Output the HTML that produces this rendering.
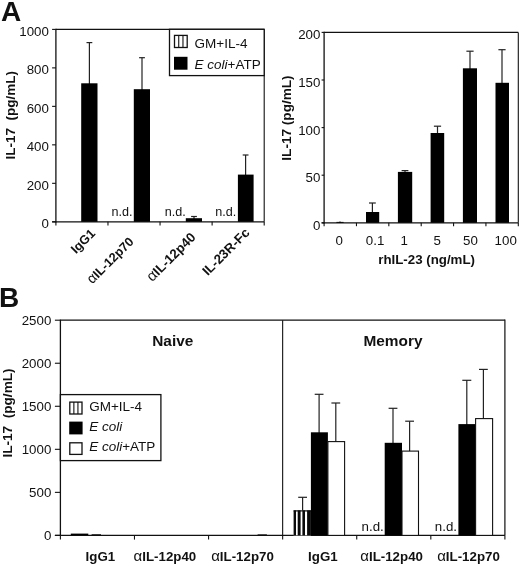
<!DOCTYPE html>
<html><head><meta charset="utf-8"><title>Figure</title>
<style>
html,body{margin:0;padding:0;background:#fff;}
svg{display:block;font-family:"Liberation Sans", "DejaVu Sans", sans-serif;fill:#111;}
svg text{fill:#111;}
</style></head>
<body>
<svg width="520" height="566" viewBox="0 0 520 566">
<rect x="0" y="0" width="520" height="566" fill="#fff"/>
<text x="0.9" y="20.9" font-size="28" text-anchor="start" font-weight="bold">A</text>
<text x="-1.1" y="307.1" font-size="28" text-anchor="start" font-weight="bold">B</text>
<line x1="55.9" y1="28.799999999999997" x2="55.9" y2="222.4" stroke="#111" stroke-width="1.3"/>
<line x1="55.9" y1="29.4" x2="264.2" y2="29.4" stroke="#111" stroke-width="1.2"/>
<line x1="264.2" y1="29.4" x2="264.2" y2="221.8" stroke="#111" stroke-width="1.1"/>
<line x1="52.1" y1="221.8" x2="264.2" y2="221.8" stroke="#111" stroke-width="1.2"/>
<line x1="52.1" y1="221.8" x2="55.9" y2="221.8" stroke="#111" stroke-width="1.1"/>
<text x="48.9" y="228.1" font-size="13.3" text-anchor="end" font-weight="normal">0</text>
<line x1="52.1" y1="183.32" x2="55.9" y2="183.32" stroke="#111" stroke-width="1.1"/>
<text x="48.9" y="189.62" font-size="13.3" text-anchor="end" font-weight="normal">200</text>
<line x1="52.1" y1="144.84" x2="55.9" y2="144.84" stroke="#111" stroke-width="1.1"/>
<text x="48.9" y="151.14" font-size="13.3" text-anchor="end" font-weight="normal">400</text>
<line x1="52.1" y1="106.36" x2="55.9" y2="106.36" stroke="#111" stroke-width="1.1"/>
<text x="48.9" y="112.66" font-size="13.3" text-anchor="end" font-weight="normal">600</text>
<line x1="52.1" y1="67.88" x2="55.9" y2="67.88" stroke="#111" stroke-width="1.1"/>
<text x="48.9" y="74.18" font-size="13.3" text-anchor="end" font-weight="normal">800</text>
<line x1="52.1" y1="29.400000000000006" x2="55.9" y2="29.400000000000006" stroke="#111" stroke-width="1.1"/>
<text x="48.9" y="35.7" font-size="13.3" text-anchor="end" font-weight="normal">1000</text>
<line x1="55.9" y1="221.8" x2="55.9" y2="225.4" stroke="#111" stroke-width="1.1"/>
<line x1="107.97" y1="221.8" x2="107.97" y2="225.4" stroke="#111" stroke-width="1.1"/>
<line x1="160.05" y1="221.8" x2="160.05" y2="225.4" stroke="#111" stroke-width="1.1"/>
<line x1="212.12" y1="221.8" x2="212.12" y2="225.4" stroke="#111" stroke-width="1.1"/>
<line x1="264.2" y1="221.8" x2="264.2" y2="225.4" stroke="#111" stroke-width="1.1"/>
<line x1="89.4" y1="42.6" x2="89.4" y2="84.3" stroke="#222" stroke-width="1.2"/>
<line x1="86.5" y1="42.6" x2="92.30000000000001" y2="42.6" stroke="#222" stroke-width="1.2"/>
<rect x="81.2" y="83.3" width="16.3" height="138.5" fill="#000"/>
<line x1="142.0" y1="57.7" x2="142.0" y2="90.2" stroke="#222" stroke-width="1.2"/>
<line x1="139.1" y1="57.7" x2="144.9" y2="57.7" stroke="#222" stroke-width="1.2"/>
<rect x="133.8" y="89.2" width="16.2" height="132.6" fill="#000"/>
<line x1="194.0" y1="216.5" x2="194.0" y2="219.2" stroke="#222" stroke-width="1.2"/>
<line x1="191.1" y1="216.5" x2="196.9" y2="216.5" stroke="#222" stroke-width="1.2"/>
<rect x="185.8" y="218.2" width="16.2" height="3.6" fill="#000"/>
<line x1="245.6" y1="155.0" x2="245.6" y2="175.6" stroke="#222" stroke-width="1.2"/>
<line x1="242.7" y1="155.0" x2="248.5" y2="155.0" stroke="#222" stroke-width="1.2"/>
<rect x="237.9" y="174.6" width="15.7" height="47.2" fill="#000"/>
<text x="111.5" y="215.6" font-size="12.6" text-anchor="start" font-weight="normal">n.d.</text>
<text x="164.8" y="215.6" font-size="12.6" text-anchor="start" font-weight="normal">n.d.</text>
<text x="215.2" y="215.6" font-size="12.6" text-anchor="start" font-weight="normal">n.d.</text>
<rect x="169.5" y="29.3" width="94.7" height="46.3" fill="#fff" stroke="#111" stroke-width="1.3"/>
<rect x="174.5" y="35.4" width="12.7" height="12.1" fill="#fff" stroke="#111" stroke-width="1.3"/>
<line x1="178.73" y1="35.4" x2="178.73" y2="47.5" stroke="#111" stroke-width="1.1"/>
<line x1="182.97" y1="35.4" x2="182.97" y2="47.5" stroke="#111" stroke-width="1.1"/>
<rect x="174.0" y="56.8" width="13.5" height="12.9" fill="#000"/>
<text x="194.6" y="47.8" font-size="13.5" text-anchor="start" font-weight="normal">GM+IL-4</text>
<text x="194.6" y="68.8" font-size="13.5" text-anchor="start" font-weight="normal"><tspan font-style="italic">E coli</tspan>+ATP</text>
<text x="15.2" y="115.2" font-size="13.5" text-anchor="middle" font-weight="bold" transform="rotate(-90 15.2 115.2)">IL-17&#160;&#160;(pg/mL)</text>
<text x="96" y="234.2" font-size="12.7" text-anchor="end" font-weight="bold" transform="rotate(-45 96 234.2)">IgG1</text>
<text x="134.5" y="242.4" font-size="12.7" text-anchor="end" font-weight="bold" transform="rotate(-45 134.5 242.4)"><tspan font-weight="normal" font-size="14.2">α</tspan>IL-12p70</text>
<text x="196.5" y="238.0" font-size="13.3" text-anchor="end" font-weight="bold" transform="rotate(-45 196.5 238.0)"><tspan font-weight="normal" font-size="15">α</tspan>IL-12p40</text>
<text x="250.5" y="233.5" font-size="13.3" text-anchor="end" font-weight="bold" transform="rotate(-45 250.5 233.5)">IL-23R-Fc</text>
<line x1="324.1" y1="31.799999999999997" x2="324.1" y2="223.4" stroke="#111" stroke-width="1.3"/>
<line x1="324.1" y1="32.4" x2="518.3" y2="32.4" stroke="#111" stroke-width="1.2"/>
<line x1="518.3" y1="32.4" x2="518.3" y2="222.8" stroke="#111" stroke-width="1.1"/>
<line x1="321.6" y1="222.8" x2="518.3" y2="222.8" stroke="#111" stroke-width="1.2"/>
<line x1="321.6" y1="222.8" x2="324.1" y2="222.8" stroke="#111" stroke-width="1.1"/>
<text x="320.4" y="229.7" font-size="13.3" text-anchor="end" font-weight="normal">0</text>
<line x1="321.6" y1="175.2" x2="324.1" y2="175.2" stroke="#111" stroke-width="1.1"/>
<text x="320.4" y="182.1" font-size="13.3" text-anchor="end" font-weight="normal">50</text>
<line x1="321.6" y1="127.6" x2="324.1" y2="127.6" stroke="#111" stroke-width="1.1"/>
<text x="320.4" y="134.5" font-size="13.3" text-anchor="end" font-weight="normal">100</text>
<line x1="321.6" y1="80.0" x2="324.1" y2="80.0" stroke="#111" stroke-width="1.1"/>
<text x="320.4" y="86.9" font-size="13.3" text-anchor="end" font-weight="normal">150</text>
<line x1="321.6" y1="32.4" x2="324.1" y2="32.4" stroke="#111" stroke-width="1.1"/>
<text x="320.4" y="39.3" font-size="13.3" text-anchor="end" font-weight="normal">200</text>
<line x1="324.1" y1="222.8" x2="324.1" y2="226.20000000000002" stroke="#111" stroke-width="1.1"/>
<line x1="356.47" y1="222.8" x2="356.47" y2="226.20000000000002" stroke="#111" stroke-width="1.1"/>
<line x1="388.83" y1="222.8" x2="388.83" y2="226.20000000000002" stroke="#111" stroke-width="1.1"/>
<line x1="421.2" y1="222.8" x2="421.2" y2="226.20000000000002" stroke="#111" stroke-width="1.1"/>
<line x1="453.57" y1="222.8" x2="453.57" y2="226.20000000000002" stroke="#111" stroke-width="1.1"/>
<line x1="485.93" y1="222.8" x2="485.93" y2="226.20000000000002" stroke="#111" stroke-width="1.1"/>
<line x1="518.3" y1="222.8" x2="518.3" y2="226.20000000000002" stroke="#111" stroke-width="1.1"/>
<line x1="340" y1="221.4" x2="340" y2="222.9" stroke="#222" stroke-width="1.2"/>
<line x1="340" y1="221.4" x2="340" y2="221.4" stroke="#222" stroke-width="1.2"/>
<rect x="336.4" y="221.9" width="7.2" height="0.9" fill="#000"/>
<line x1="372.4" y1="203.0" x2="372.4" y2="213.0" stroke="#222" stroke-width="1.2"/>
<line x1="369.0" y1="203.0" x2="375.79999999999995" y2="203.0" stroke="#222" stroke-width="1.2"/>
<rect x="366.0" y="212.0" width="13.2" height="10.8" fill="#000"/>
<line x1="405" y1="170.6" x2="405" y2="172.9" stroke="#222" stroke-width="1.2"/>
<line x1="401.6" y1="170.6" x2="408.4" y2="170.6" stroke="#222" stroke-width="1.2"/>
<rect x="397.9" y="171.9" width="14.3" height="50.9" fill="#000"/>
<line x1="437.5" y1="126.2" x2="437.5" y2="134.0" stroke="#222" stroke-width="1.2"/>
<line x1="433.9" y1="126.2" x2="441.1" y2="126.2" stroke="#222" stroke-width="1.2"/>
<rect x="430.6" y="133.0" width="13.6" height="89.8" fill="#000"/>
<line x1="470" y1="51.2" x2="470" y2="69.3" stroke="#222" stroke-width="1.2"/>
<line x1="466.4" y1="51.2" x2="473.6" y2="51.2" stroke="#222" stroke-width="1.2"/>
<rect x="462.9" y="68.3" width="14.1" height="154.5" fill="#000"/>
<line x1="502" y1="49.7" x2="502" y2="83.8" stroke="#222" stroke-width="1.2"/>
<line x1="498.4" y1="49.7" x2="505.6" y2="49.7" stroke="#222" stroke-width="1.2"/>
<rect x="495.5" y="82.8" width="13.5" height="140.0" fill="#000"/>
<text x="339.2" y="244.8" font-size="13.3" text-anchor="middle" font-weight="normal">0</text>
<text x="375.1" y="244.8" font-size="13.3" text-anchor="middle" font-weight="normal">0.1</text>
<text x="404.3" y="244.8" font-size="13.3" text-anchor="middle" font-weight="normal">1</text>
<text x="437.3" y="244.8" font-size="13.3" text-anchor="middle" font-weight="normal">5</text>
<text x="470.5" y="244.8" font-size="13.3" text-anchor="middle" font-weight="normal">50</text>
<text x="505.7" y="244.8" font-size="13.3" text-anchor="middle" font-weight="normal">100</text>
<text x="291.2" y="118.0" font-size="13.6" text-anchor="middle" font-weight="bold" transform="rotate(-90 291.2 118.0)">IL-17 (pg/mL)</text>
<text x="426.6" y="264.3" font-size="13.3" text-anchor="middle" font-weight="bold">rhIL-23 (ng/mL)</text>
<line x1="60.4" y1="319.59999999999997" x2="60.4" y2="536.0" stroke="#111" stroke-width="1.3"/>
<line x1="60.4" y1="320.2" x2="504.9" y2="320.2" stroke="#111" stroke-width="1.2"/>
<line x1="504.9" y1="319.59999999999997" x2="504.9" y2="535.4" stroke="#111" stroke-width="1.2"/>
<line x1="54.9" y1="535.4" x2="504.9" y2="535.4" stroke="#111" stroke-width="1.2"/>
<line x1="54.9" y1="535.4" x2="60.4" y2="535.4" stroke="#111" stroke-width="1.1"/>
<text x="51.3" y="540.3" font-size="13.3" text-anchor="end" font-weight="normal">0</text>
<line x1="54.9" y1="492.36" x2="60.4" y2="492.36" stroke="#111" stroke-width="1.1"/>
<text x="51.3" y="497.26" font-size="13.3" text-anchor="end" font-weight="normal">500</text>
<line x1="54.9" y1="449.32" x2="60.4" y2="449.32" stroke="#111" stroke-width="1.1"/>
<text x="51.3" y="454.22" font-size="13.3" text-anchor="end" font-weight="normal">1000</text>
<line x1="54.9" y1="406.28" x2="60.4" y2="406.28" stroke="#111" stroke-width="1.1"/>
<text x="51.3" y="411.18" font-size="13.3" text-anchor="end" font-weight="normal">1500</text>
<line x1="54.9" y1="363.24" x2="60.4" y2="363.24" stroke="#111" stroke-width="1.1"/>
<text x="51.3" y="368.14" font-size="13.3" text-anchor="end" font-weight="normal">2000</text>
<line x1="54.9" y1="320.2" x2="60.4" y2="320.2" stroke="#111" stroke-width="1.1"/>
<text x="51.3" y="325.1" font-size="13.3" text-anchor="end" font-weight="normal">2500</text>
<line x1="60.4" y1="535.4" x2="60.4" y2="539.6" stroke="#111" stroke-width="1.1"/>
<line x1="134.48" y1="535.4" x2="134.48" y2="539.6" stroke="#111" stroke-width="1.1"/>
<line x1="208.57" y1="535.4" x2="208.57" y2="539.6" stroke="#111" stroke-width="1.1"/>
<line x1="282.65" y1="535.4" x2="282.65" y2="539.6" stroke="#111" stroke-width="1.1"/>
<line x1="356.73" y1="535.4" x2="356.73" y2="539.6" stroke="#111" stroke-width="1.1"/>
<line x1="430.82" y1="535.4" x2="430.82" y2="539.6" stroke="#111" stroke-width="1.1"/>
<line x1="504.9" y1="535.4" x2="504.9" y2="539.6" stroke="#111" stroke-width="1.1"/>
<line x1="282.65" y1="320.2" x2="282.65" y2="535.4" stroke="#111" stroke-width="1.1"/>
<text x="172.8" y="346.0" font-size="15.4" text-anchor="middle" font-weight="bold">Naive</text>
<text x="393" y="346.0" font-size="15.4" text-anchor="middle" font-weight="bold">Memory</text>
<rect x="70.8" y="533.6" width="17.5" height="1.6" fill="#000"/>
<rect x="91.6" y="534.3" width="9.4" height="0.9" fill="#000"/>
<rect x="257.6" y="534.4" width="9.3" height="0.8" fill="#000"/>
<line x1="302.6" y1="497.3" x2="302.6" y2="512" stroke="#222" stroke-width="1.2"/>
<line x1="298.20000000000005" y1="497.3" x2="307.0" y2="497.3" stroke="#222" stroke-width="1.2"/>
<rect x="293.6" y="510.4" width="17.3" height="25.0" fill="#fff"/>
<rect x="293.6" y="510.4" width="2.4" height="25.0" fill="#0a0a0a"/>
<rect x="297.7" y="510.4" width="2.9" height="25.0" fill="#0a0a0a"/>
<rect x="302.4" y="510.4" width="2.6" height="25.0" fill="#0a0a0a"/>
<rect x="307.1" y="510.4" width="3.8" height="25.0" fill="#0a0a0a"/>
<line x1="293.6" y1="510.9" x2="310.9" y2="510.9" stroke="#0a0a0a" stroke-width="1.2"/>
<line x1="319.1" y1="394.3" x2="319.1" y2="433" stroke="#222" stroke-width="1.2"/>
<line x1="314.70000000000005" y1="394.3" x2="323.5" y2="394.3" stroke="#222" stroke-width="1.2"/>
<rect x="310.9" y="432.3" width="17.0" height="103.1" fill="#000"/>
<line x1="335.8" y1="403.0" x2="335.8" y2="442" stroke="#222" stroke-width="1.2"/>
<line x1="331.40000000000003" y1="403.0" x2="340.2" y2="403.0" stroke="#222" stroke-width="1.2"/>
<rect x="327.9" y="441.6" width="16.7" height="93.8" fill="#fff" stroke="#111" stroke-width="1.1"/>
<line x1="393.0" y1="408.3" x2="393.0" y2="443" stroke="#222" stroke-width="1.2"/>
<line x1="388.6" y1="408.3" x2="397.4" y2="408.3" stroke="#222" stroke-width="1.2"/>
<rect x="384.7" y="442.8" width="17.3" height="92.6" fill="#000"/>
<line x1="409.6" y1="421.2" x2="409.6" y2="452" stroke="#222" stroke-width="1.2"/>
<line x1="405.20000000000005" y1="421.2" x2="414.0" y2="421.2" stroke="#222" stroke-width="1.2"/>
<rect x="402.0" y="451.1" width="16.5" height="84.3" fill="#fff" stroke="#111" stroke-width="1.1"/>
<line x1="466.8" y1="380.3" x2="466.8" y2="425" stroke="#222" stroke-width="1.2"/>
<line x1="462.3" y1="380.3" x2="471.3" y2="380.3" stroke="#222" stroke-width="1.2"/>
<rect x="458.4" y="424.1" width="17.2" height="111.3" fill="#000"/>
<line x1="483.4" y1="369.4" x2="483.4" y2="419" stroke="#222" stroke-width="1.2"/>
<line x1="479.0" y1="369.4" x2="487.79999999999995" y2="369.4" stroke="#222" stroke-width="1.2"/>
<rect x="475.6" y="418.6" width="17.0" height="116.8" fill="#fff" stroke="#111" stroke-width="1.1"/>
<text x="361.6" y="530.6" font-size="13.3" text-anchor="start" font-weight="normal">n.d.</text>
<text x="434.8" y="530.6" font-size="13.3" text-anchor="start" font-weight="normal">n.d.</text>
<rect x="60.4" y="394.6" width="100.5" height="66.0" fill="#fff" stroke="#111" stroke-width="1.3"/>
<rect x="69.8" y="402.1" width="12.2" height="11.9" fill="#fff" stroke="#111" stroke-width="1.3"/>
<line x1="73.87" y1="402.1" x2="73.87" y2="414.0" stroke="#111" stroke-width="1.1"/>
<line x1="77.93" y1="402.1" x2="77.93" y2="414.0" stroke="#111" stroke-width="1.1"/>
<rect x="69.2" y="421.6" width="13.4" height="12.8" fill="#000"/>
<rect x="69.8" y="442.8" width="12.2" height="11.6" fill="#fff" stroke="#111" stroke-width="1.3"/>
<text x="89.2" y="410.6" font-size="13.5" text-anchor="start" font-weight="normal">GM+IL-4</text>
<text x="89.2" y="430.8" font-size="13.5" text-anchor="start" font-weight="normal"><tspan font-style="italic">E coli</tspan></text>
<text x="89.2" y="451.2" font-size="13.5" text-anchor="start" font-weight="normal"><tspan font-style="italic">E coli</tspan>+ATP</text>
<text x="11.5" y="413" font-size="13.6" text-anchor="middle" font-weight="bold" transform="rotate(-90 11.5 413)">IL-17&#160;&#160;(pg/mL)</text>
<text x="85.6" y="560.6" font-size="13.3" text-anchor="start" font-weight="bold">IgG1</text>
<text x="133.6" y="560.6" font-size="13.3" text-anchor="start" font-weight="bold"><tspan font-weight="normal" font-size="15">α</tspan>IL-12p40</text>
<text x="211.2" y="560.6" font-size="13.3" text-anchor="start" font-weight="bold"><tspan font-weight="normal" font-size="15">α</tspan>IL-12p70</text>
<text x="308.1" y="560.6" font-size="13.3" text-anchor="start" font-weight="bold">IgG1</text>
<text x="360.3" y="560.6" font-size="13.3" text-anchor="start" font-weight="bold"><tspan font-weight="normal" font-size="15">α</tspan>IL-12p40</text>
<text x="437.2" y="560.6" font-size="13.3" text-anchor="start" font-weight="bold"><tspan font-weight="normal" font-size="15">α</tspan>IL-12p70</text>
</svg>
</body></html>
